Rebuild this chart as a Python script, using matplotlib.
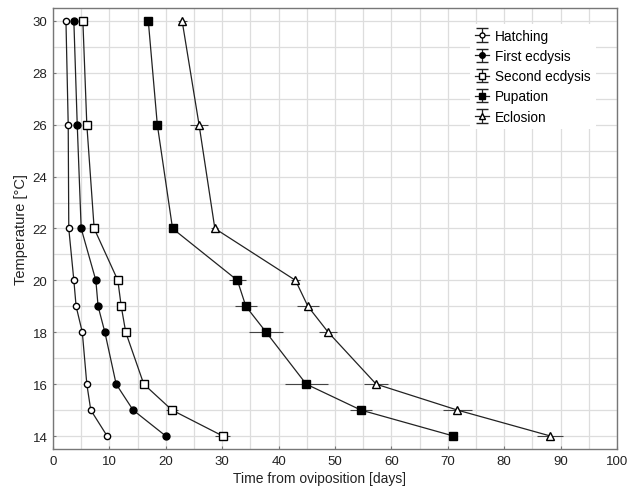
import matplotlib
matplotlib.use("Agg")
import matplotlib.pyplot as plt
import numpy as np

plt.rcParams['font.family'] = ['Liberation Sans', 'DejaVu Sans']

temps = [30, 26, 22, 20, 19, 18, 16, 15, 14]
hatching = [2.3, 2.7, 2.8, 3.7, 4.1, 5.2, 6.0, 6.7, 9.6]
hatching_err = [0.3, 0.2, 0.2, 0.2, 0.2, 0.3, 0.3, 0.4, 0.3]
first_ecdysis = [3.7, 4.3, 5.0, 7.6, 8.0, 9.2, 11.2, 14.2, 20.0]
first_err = [0.3, 0.3, 0.3, 0.3, 0.4, 0.5, 0.4, 0.5, 0.4]
second_ecdysis = [5.3, 6.0, 7.3, 11.5, 12.1, 12.9, 16.1, 21.1, 30.1]
second_err = [0.4, 0.4, 0.4, 0.4, 0.6, 0.6, 0.7, 1.0, 1.3]
pupation = [16.9, 18.5, 21.2, 32.7, 34.2, 37.8, 44.9, 54.6, 71.0]
pupation_err = [0.5, 0.5, 0.6, 1.5, 2.0, 3.0, 3.8, 2.0, 0.5]
eclosion = [22.9, 25.9, 28.7, 43.0, 45.2, 48.8, 57.3, 71.7, 88.2]
eclosion_err = [0.8, 1.6, 0.6, 0.8, 2.0, 1.6, 2.1, 2.6, 2.3]

series = [
    ("Hatching", hatching, hatching_err, 'o', 'white', 4.5),
    ("First ecdysis", first_ecdysis, first_err, 'o', 'black', 5),
    ("Second ecdysis", second_ecdysis, second_err, 's', 'white', 5.5),
    ("Pupation", pupation, pupation_err, 's', 'black', 6),
    ("Eclosion", eclosion, eclosion_err, '^', 'white', 5.5),
]

fig = plt.figure(figsize=(6.27, 4.89), dpi=100)
ax = fig.add_axes([0.0845, 0.0798, 0.8995, 0.9018])

for name, vals, err, mk, fc, ms in series:
    ax.errorbar(vals, temps, xerr=err, fmt='-', marker=mk,
                color='#222222', mfc=fc, mec='black', ms=ms, lw=0.9,
                elinewidth=0.8, ecolor='#444444', capsize=0, zorder=3)

ax.set_xlim(0, 100)
ax.set_ylim(13.5, 30.5)
ax.set_xticks(np.arange(0, 101, 10))
ax.set_xticks(np.arange(0, 101, 5), minor=True)
ax.set_yticks(np.arange(14, 31, 2))
ax.set_yticks(np.arange(14, 31, 1), minor=True)
ax.grid(True, which='both', color='#dddddd', lw=0.9, zorder=0)
ax.set_axisbelow(True)
ax.tick_params(which='major', length=2.5, width=0.8, direction='in', color='#777777',
               labelsize=9.5, labelcolor='#222222', pad=4)
ax.tick_params(which='minor', length=0)
for s in ax.spines.values():
    s.set_color('#777777')
    s.set_linewidth(1.0)

ax.set_xlabel("Time from oviposition [days]", fontsize=10, color='#222222', labelpad=3)
ax.xaxis.label.set_x(0.473)
ax.set_ylabel("Temperature [°C]", fontsize=10.5, color='#222222', labelpad=3)

# legend with errorbar-like handles
handles = []
for name, vals, err, mk, fc, ms in series:
    handles.append(ax.errorbar([np.nan], [np.nan], yerr=[1], fmt='-', marker=mk, color='#222222',
                               mfc=fc, mec='black', ms=ms * 0.8, capsize=4, lw=0.9))
leg = ax.legend(handles, [s[0] for s in series], loc='upper right',
                bbox_to_anchor=(0.975, 0.98), frameon=True, fontsize=9.8,
                handlelength=1.0, handletextpad=0.45, labelspacing=0.45,
                borderaxespad=0.5)
leg.get_frame().set_facecolor('white')
leg.get_frame().set_edgecolor('none')
leg.get_frame().set_alpha(1.0)

fig.savefig("out.png", dpi=100)
